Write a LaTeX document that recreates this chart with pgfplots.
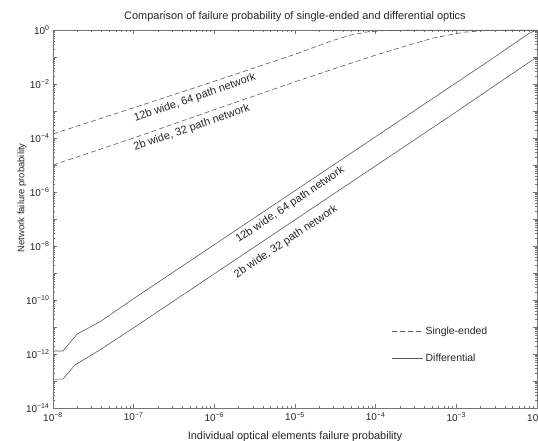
\documentclass[border=0pt]{standalone}
\usepackage{fontspec}
\setmainfont{Liberation Sans}
\usepackage{pgfplots}
\pgfplotsset{compat=1.18}
\definecolor{linegray}{gray}{0.35}
\definecolor{axgray}{gray}{0.45}
\definecolor{txtgray}{gray}{0.15}
\begin{document}
\begin{tikzpicture}[x=1bp,y=1bp]
\begin{axis}[
  scale only axis, width=484bp, height=378bp,
  xmode=log, ymode=log,
  xmin=1e-8, xmax=1e-2, ymin=1e-14, ymax=1,
  axis line style={axgray, line width=0.5bp},
  tick style={axgray, line width=0.45bp},
  major tick length=4bp, minor tick length=2.5bp,
  tick align=inside,
  xtick={1e-8,1e-7,1e-6,1e-5,1e-4,1e-3,1e-2},
  xticklabels={10\textsuperscript{−8},10\textsuperscript{−7},10\textsuperscript{−6},10\textsuperscript{−5},10\textsuperscript{−4},10\textsuperscript{−3},10\textsuperscript{−2}},
  minor xtick={2e-8,3e-8,4e-8,5e-8,6e-8,7e-8,8e-8,9e-8,
               2e-7,3e-7,4e-7,5e-7,6e-7,7e-7,8e-7,9e-7,
               2e-6,3e-6,4e-6,5e-6,6e-6,7e-6,8e-6,9e-6,
               2e-5,3e-5,4e-5,5e-5,6e-5,7e-5,8e-5,9e-5,
               2e-4,3e-4,4e-4,5e-4,6e-4,7e-4,8e-4,9e-4,
               2e-3,3e-3,4e-3,5e-3,6e-3,7e-3,8e-3,9e-3},
  ytick={1e-14,1e-13,1e-12,1e-11,1e-10,1e-9,1e-8,1e-7,1e-6,1e-5,1e-4,1e-3,1e-2,1e-1,1},
  yticklabels={10\textsuperscript{−14},,10\textsuperscript{−12},,10\textsuperscript{−10},,10\textsuperscript{−8},,10\textsuperscript{−6},,10\textsuperscript{−4},,10\textsuperscript{−2},,10\textsuperscript{0}},
  minor ytick={},
  xticklabel style={font=\fontsize{10}{12}\selectfont, text=txtgray, yshift=-1bp},
  yticklabel style={font=\fontsize{10}{12}\selectfont, text=txtgray},
  title={Comparison of failure probability of single-ended and differential optics},
  title style={at={(axis description cs:0.5,1)}, anchor=center, yshift=7bp, font=\fontsize{11}{13}\selectfont, text=txtgray},
  xlabel={Individual optical elements failure probability},
  xlabel style={at={(axis description cs:0.5,0)}, anchor=center, yshift=-29bp, font=\fontsize{11}{13}\selectfont, text=txtgray},
  ylabel={Network failure probability},
  ylabel style={at={(axis description cs:0,0.556)}, anchor=center, yshift=31bp, font=\fontsize{9.5}{11}\selectfont, text=txtgray},
  legend style={draw=none, fill=none, at={(0.694,0.226)}, anchor=north west,
    font=\fontsize{10.5}{12}\selectfont, text=txtgray, row sep=14bp},
  legend cell align=left,
  legend image code/.code={\draw[#1] (0bp,0bp) -- (31bp,0bp);},
]
% Single-ended, 12b wide, 64 path network
\addplot[linegray, line width=0.6bp, dash pattern=on 5bp off 3bp] coordinates {
 (1e-8,1.41e-4) (1e-7,1.32e-3) (1e-6,1.26e-2) (3.162e-6,3.98e-2) (1e-5,0.126)
 (1.995e-5,0.269) (3.162e-5,0.437) (5.012e-5,0.661) (7.943e-5,0.851)
 (1.259e-4,0.944) (2.512e-4,0.977) (1e-3,0.989) (1e-2,0.989)
};
\addlegendentry{Single-ended}
% Differential, 12b wide, 64 path network
\addplot[linegray, line width=0.6bp] coordinates {
 (1e-8,1.29e-12) (1.33e-8,1.29e-12) (1.995e-8,5.50e-12) (3.80e-8,1.55e-11)
 (1e-7,1.12e-10) (1e-6,1.12e-8) (1e-5,1.12e-6) (1e-4,1.12e-4) (1e-3,1.12e-2)
 (3.162e-3,0.112) (6.31e-3,0.468) (7.943e-3,0.741) (9.12e-3,0.912) (1e-2,0.977)
};
\addlegendentry{Differential}
% Single-ended, 2b wide, 32 path network
\addplot[linegray, line width=0.6bp, dash pattern=on 5bp off 3bp, forget plot] coordinates {
 (1e-8,1.0e-5) (1e-7,1.0e-4) (1e-6,1.122e-3) (1e-5,1.202e-2) (3.162e-5,3.80e-2)
 (1e-4,0.1175) (1.995e-4,0.2188) (3.162e-4,0.3311) (5.012e-4,0.4898)
 (7.943e-4,0.6457) (1.259e-3,0.8318) (1.995e-3,0.9226) (3.162e-3,0.966)
 (6.31e-3,0.9886) (1e-2,0.993)
};
% Differential, 2b wide, 32 path network
\addplot[linegray, line width=0.6bp, forget plot] coordinates {
 (1e-8,1.175e-13) (1.33e-8,1.175e-13) (1.862e-8,3.89e-13) (3.80e-8,1.41e-12)
 (1e-7,9.33e-12) (1e-6,9.33e-10) (1e-5,9.33e-8) (1e-4,9.33e-6) (1e-3,9.33e-4)
 (3.162e-3,9.8e-3) (1e-2,0.1)
};
\node[rotate=19, font=\fontsize{11}{13}\selectfont, text=txtgray] at (axis cs:5.75e-7,3.0e-3) {12b wide, 64 path network};
\node[rotate=19, font=\fontsize{11}{13}\selectfont, text=txtgray] at (axis cs:5.25e-7,2.34e-4) {2b wide, 32 path network};
\node[rotate=33.8, font=\fontsize{11}{13}\selectfont, text=txtgray] at (axis cs:8.7e-6,3.3e-7) {12b wide, 64 path network};
\node[rotate=33.8, font=\fontsize{11}{13}\selectfont, text=txtgray] at (axis cs:7.76e-6,1.41e-8) {2b wide, 32 path network};
\end{axis}
\pgfresetboundingbox
\path[use as bounding box] (-53bp,-33bp) rectangle (485bp,408bp);
\end{tikzpicture}
\end{document}
